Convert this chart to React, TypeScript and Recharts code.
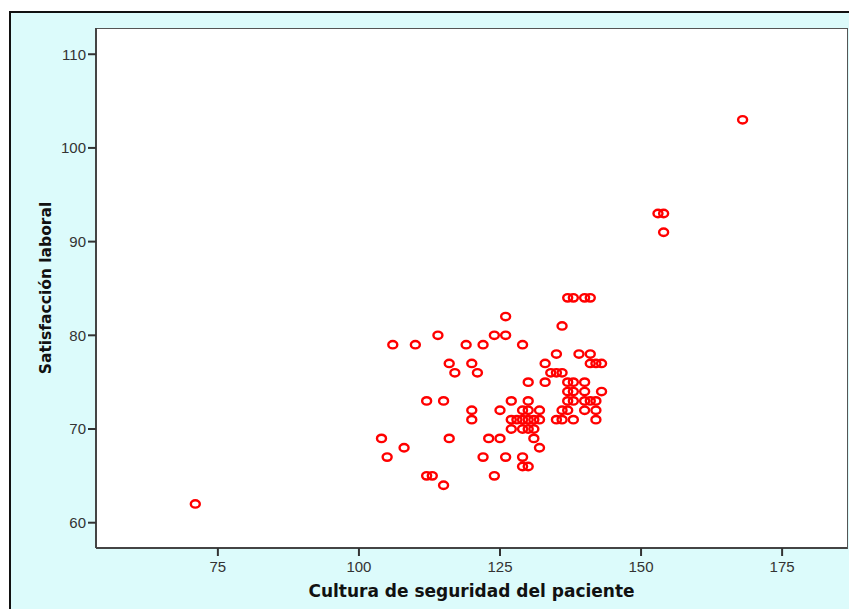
import React from 'react';
import { ScatterChart, Scatter, XAxis, YAxis, Label } from 'recharts';

const culturaSeguridad: number[] = [
  71, 168, 153, 154, 154,
  137, 138, 140, 141,
  126, 136,
  114, 124, 126,
  106, 110, 119, 122, 129,
  135, 139, 141,
  116, 120, 133, 141, 142, 143,
  117, 121, 134, 135, 136,
  130, 133, 137, 138, 140,
  137, 138, 140, 143,
  112, 115, 127, 130, 137, 138, 140, 141, 142,
  120, 125, 129, 130, 132, 136, 137, 140, 142,
  120, 127, 128, 129, 130, 131, 132, 135, 136, 138, 142,
  127, 129, 130, 131,
  104, 116, 123, 125, 131,
  108, 132,
  105, 122, 126, 129,
  129, 130,
  112, 113, 124,
  115,
];

const satisfaccionLaboral: number[] = [
  62, 103, 93, 93, 91,
  84, 84, 84, 84,
  82, 81,
  80, 80, 80,
  79, 79, 79, 79, 79,
  78, 78, 78,
  77, 77, 77, 77, 77, 77,
  76, 76, 76, 76, 76,
  75, 75, 75, 75, 75,
  74, 74, 74, 74,
  73, 73, 73, 73, 73, 73, 73, 73, 73,
  72, 72, 72, 72, 72, 72, 72, 72, 72,
  71, 71, 71, 71, 71, 71, 71, 71, 71, 71, 71,
  70, 70, 70, 70,
  69, 69, 69, 69, 69,
  68, 68,
  67, 67, 67, 67,
  66, 66,
  65, 65, 65,
  64,
];

const xTicks = [75, 100, 125, 150, 175];
const yTicks = [60, 70, 80, 90, 100, 110];

const data = culturaSeguridad.map((x, i) => ({ x, y: satisfaccionLaboral[i] }));

const RingShape = (props: any) => {
  const { cx, cy } = props;
  if (cx == null || cy == null) return null;
  return <ellipse cx={cx} cy={cy} rx={4.5} ry={3.7} fill="none" stroke="#ff0000" strokeWidth={2.4} />;
};

const tickStyle = { fill: '#333', fontSize: 15, fontFamily: 'Liberation Sans, Arial, sans-serif' };

export default function App() {
  return (
    <div style={{ position: 'absolute', left: 0, top: 0, width: 849, height: 609, background: '#ffffff', overflow: 'hidden' }}>
      <div
        style={{
          position: 'absolute',
          left: 9,
          top: 11,
          width: 860,
          height: 620,
          background: '#dcfbfb',
          borderLeft: '2px solid #111',
          borderTop: '2px solid #111',
        }}
      />
      <div
        style={{
          position: 'absolute',
          left: 96,
          top: 28,
          width: 750,
          height: 519,
          background: '#ffffff',
          border: '1px solid #555',
        }}
      />
      <div style={{ position: 'absolute', left: 0, top: 0 }}>
        <ScatterChart width={849} height={609} margin={{ top: 28, right: 2, bottom: 0, left: 0 }}>
          <XAxis
            type="number"
            dataKey="x"
            domain={[53.4, 186.5]}
            ticks={xTicks}
            allowDataOverflow
            height={61}
            tickSize={8}
            stroke="#444"
            axisLine={{ stroke: '#444', strokeWidth: 2 }}
            tickLine={{ stroke: '#333', strokeWidth: 2 }}
            tick={{ ...tickStyle, dy: 3 }}
          >
            <Label
              value="Cultura de seguridad del paciente"
              position="insideBottom"
              offset={12}
              style={{ fill: '#111', fontSize: 17, fontWeight: 'bold', fontFamily: 'DejaVu Sans, Verdana, sans-serif' }}
            />
          </XAxis>
          <YAxis
            type="number"
            dataKey="y"
            domain={[57.3, 112.8]}
            ticks={yTicks}
            allowDataOverflow
            width={96}
            tickSize={8}
            stroke="#444"
            axisLine={{ stroke: '#444', strokeWidth: 2 }}
            tickLine={{ stroke: '#333', strokeWidth: 2 }}
            tick={tickStyle}
          >
            <Label
              value="Satisfacción laboral"
              angle={-90}
              position="center"
              dx={-3}
              style={{ fill: '#111', fontSize: 15.5, fontWeight: 'bold', fontFamily: 'DejaVu Sans, Verdana, sans-serif', textAnchor: 'middle' }}
            />
          </YAxis>
          <Scatter data={data} shape={RingShape} isAnimationActive={false} />
        </ScatterChart>
      </div>
    </div>
  );
}
